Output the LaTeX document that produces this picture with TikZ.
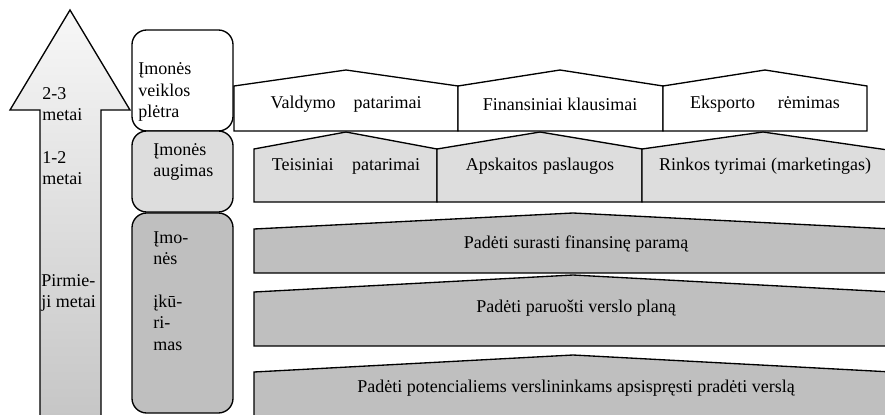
\documentclass[tikz,border=0pt]{standalone}
\usepackage{fontspec}
\setmainfont{Liberation Serif}
\usepackage{tikz}

\begin{document}
\begin{tikzpicture}[x=0.75pt,y=-0.75pt,
  every node/.style={font=\fontsize{13.5}{16}\selectfont},
  stage/.style={draw, line width=1pt, rounded corners=11pt},
  house/.style={draw, line width=1pt},
  lbl/.style={anchor=west, inner sep=0pt, align=left}]

\useasboundingbox (0,0) rectangle (885,414);

% laiko rodykle
\shade[top color=gray!6, bottom color=gray!45, draw, line width=1pt]
  (70,10) -- (130,110) -- (101,110) -- (101,420) -- (40,420) -- (40,110) -- (10,110) -- cycle;
\node[lbl] (m23) at (42,104) {2-3\\metai};
\node[lbl] (m12) at (42,168) {1-2\\metai};
\node[lbl] (m1) at (41,293) {Pirmie-\\ji metai};

% etapai
\draw[stage, fill=white] (132,30) rectangle (233,131);
\draw[stage, fill=gray!27] (132,131) rectangle (233,212);
\draw[stage, fill=gray!50] (132,213) rectangle (233,413);
\node[lbl] (pletra) at (138,92) {Įmonės\\veiklos\\plėtra};
\node[lbl] (augimas) at (153,162) {Įmonės\\augimas};
\node[lbl] (kurimas) at (153,291) {Įmo-\\nės\\ \\įkū-\\ri-\\mas};

% pirmieji metai
\draw[house, fill=gray!50] (254,273) -- (254,229) -- (573,213) -- (892,229) -- (892,273) -- cycle;
\draw[house, fill=gray!50] (254,346) -- (254,292) -- (573,275) -- (892,292) -- (892,346) -- cycle;
\draw[house, fill=gray!50] (254,420) -- (254,372) -- (573,355) -- (892,372) -- (892,420) -- cycle;
\node (p1) at (576,244) {Padėti surasti finansinę paramą};
\node (p2) at (576,308) {Padėti paruošti verslo planą};
\node (p3) at (576,388) {Padėti potencialiems verslininkams apsispręsti pradėti verslą};

% augimas
\draw[house, fill=gray!27] (254,202) -- (254,149) -- (346,132) -- (437,149) -- (437,202) -- cycle;
\draw[house, fill=gray!27] (437,202) -- (437,149) -- (540,132) -- (642,149) -- (642,202) -- cycle;
\draw[house, fill=gray!27] (642,202) -- (642,149) -- (763,132) -- (888,150) -- (888,202) -- cycle;
\node (a1) at (346,166) {Teisiniai\hspace{14pt}patarimai};
\node (a2) at (540,166) {Apskaitos\hspace{4pt}paslaugos};
\node (a3) at (765,166) {Rinkos tyrimai (marketingas)};

% pletra
\draw[house, fill=white] (234,131) -- (234,86) -- (346,70) -- (458,86) -- (458,131) -- cycle;
\draw[house, fill=white] (458,131) -- (458,86) -- (560,70) -- (663,86) -- (663,131) -- cycle;
\draw[house, fill=white] (663,131) -- (663,86) -- (765,70) -- (867,86) -- (867,131) -- cycle;
\node (v1) at (346,104) {Valdymo\quad patarimai};
\node (v2) at (560,104) {Finansiniai klausimai};
\node (v3) at (765,104) {Eksporto\hspace{17pt}rėmimas};

\end{tikzpicture}
\end{document}
